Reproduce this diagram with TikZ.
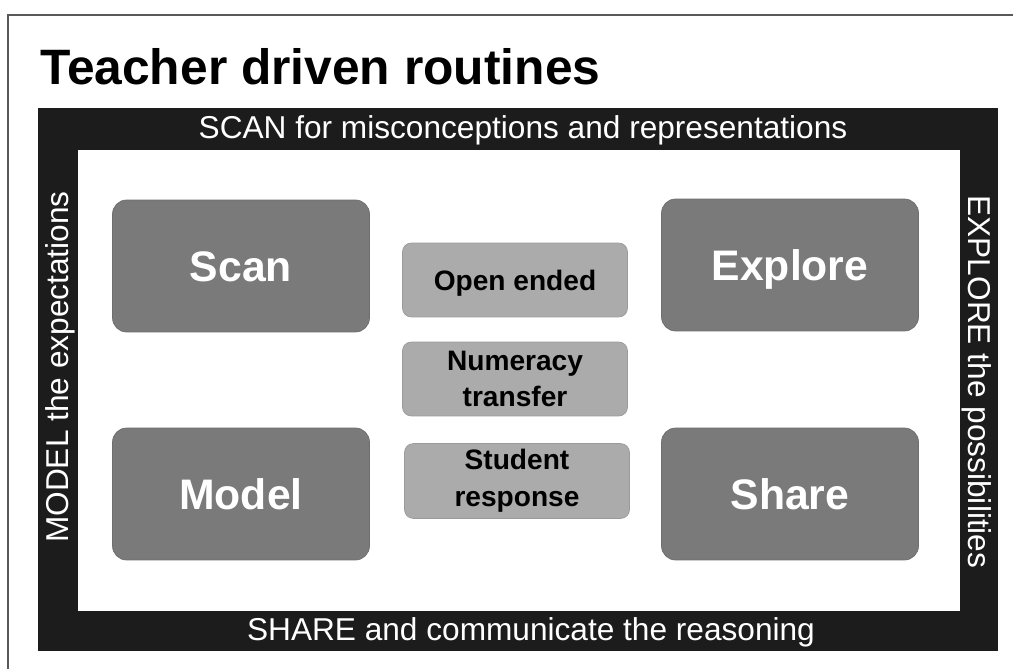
\documentclass[tikz,border=0pt]{standalone}
\usepackage{fontspec}
\setmainfont{Liberation Sans}
\usepackage{xcolor}
\usepackage{tikz}
\definecolor{bandgray}{HTML}{1C1C1C}
\definecolor{boxgray}{HTML}{7A7A7A}
\definecolor{tilegray}{HTML}{ABABAB}
\tikzset{
  routine/.style  = {shape=rectangle, rounded corners=8pt, draw=boxgray!90!black,
                     fill=boxgray, text=white, align=center,
                     minimum width=5.14cm, minimum height=2.64cm,
                     text height=17.4pt, text depth=0pt,
                     font=\fontsize{24.3}{27}\selectfont\bfseries},
  prompt/.style   = {shape=rectangle, rounded corners=5pt, draw=tilegray!90!black,
                     fill=tilegray, text=black, align=center,
                     minimum width=4.5cm, minimum height=1.48cm,
                     font=\fontsize{16}{21}\selectfont\bfseries},
  bandtext/.style = {text=white, font=\fontsize{18}{20}\selectfont,
                     inner sep=0pt, anchor=base}
}
\begin{document}
\begin{tikzpicture}
  [
    x = 0.02cm,
    y = -0.02cm
  ]
  \useasboundingbox (0,0) rectangle (1013,669);
  % page frame
  \draw [gray!70!black, line width=0.6pt] (8,669) -- (8,15) -- (1013,15);
  \node [anchor=base west, inner sep=0pt,
         font=\fontsize{28.3}{30}\selectfont\bfseries] (title)
    at (40,85) {Teacher driven routines};
  % the band
  \fill [bandgray] (38,108) rectangle (998,651);
  \fill [white] (78,150) rectangle (960,611);
  \node [bandtext] (scanline)    at (523,138) {SCAN for misconceptions and representations};
  \node [bandtext] (shareline)   at (531,640) {SHARE and communicate the reasoning};
  \node [bandtext, rotate=90]  (modelline)   at (68,367) {MODEL the expectations};
  \node [bandtext, rotate=-90] (exploreline) at (968,382) {EXPLORE the possibilities};
  % routines
  \node [routine] (scan)    at (241,266) {Scan};
  \node [routine] (explore) at (790,265) {Explore};
  \node [routine] (model)   at (241,494) {Model};
  \node [routine] (share)   at (790,494) {Share};
  % prompts
  \node [prompt, text height=11.5pt, text depth=0pt] (open) at (515,280) {Open ended};
  \node [prompt] (numeracy) at (515,379) {Numeracy\\transfer};
  \node [prompt] (student)  at (517,481) {Student\\response};
\end{tikzpicture}
\end{document}
